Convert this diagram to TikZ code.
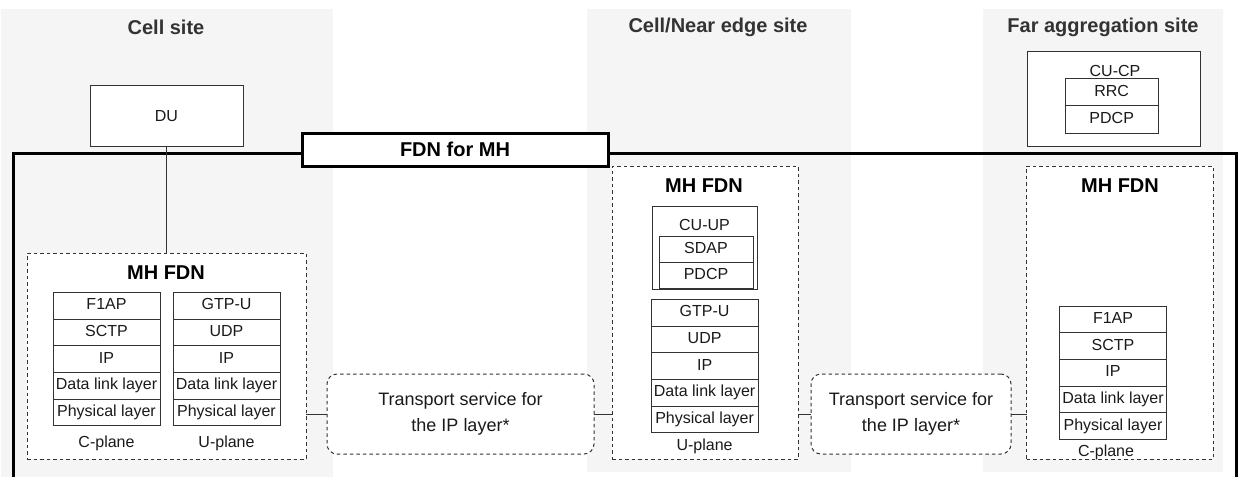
\documentclass[tikz,border=0pt]{standalone}
\usepackage{fontspec}
\setmainfont{Liberation Sans}
\newcommand\fsz[2]{\fontsize{#1}{#2}\selectfont}
\definecolor{bggray}{HTML}{F5F5F5}
\definecolor{linegray}{HTML}{333333}
\definecolor{titlegray}{HTML}{333333}
\definecolor{txt}{HTML}{1A1A1A}
\tikzset{
  bgpanel/.style={fill=bggray, draw=none},
  sitetitle/.style={font=\bfseries\fsz{20}{24}, text=titlegray, inner sep=0pt},
  mhtitle/.style={font=\bfseries\fsz{20}{24}, text=black, inner sep=0pt},
  plain/.style={font=\fsz{16}{19}, text=txt, inner sep=0pt},
  solidbox/.style={draw=linegray, line width=1pt, fill=white, inner sep=0pt, outer sep=0pt},
  layer/.style={solidbox, minimum width=107pt, minimum height=26.7pt, font=\fsz{16}{19}, text=txt, text height=11.5pt, text depth=3.5pt},
  dashbox/.style={draw=linegray, line width=1pt, dash pattern=on 3.5pt off 3pt, fill=white, inner sep=0pt, outer sep=0pt},
  transport/.style={dashbox, rounded corners=10pt, font=\fsz{18}{26}, text=txt, align=center},
  link/.style={draw=linegray, line width=1pt},
  thickframe/.style={draw=black, line width=3pt},
}
\begin{document}
\begin{tikzpicture}[x=1pt,y=-1pt]
\useasboundingbox (0,0) rectangle (1238,476);
% background site panels
\fill[bgpanel] (1,9) rectangle (333,477);
\fill[bgpanel] (587,9) rectangle (851,472);
\fill[bgpanel] (983,9) rectangle (1223,472);
\node[sitetitle] (tcell) at (166,27) {Cell site};
\node[sitetitle] (tnear) at (718,27) {Cell/Near edge site};
\node[sitetitle] (tfar) at (1103,27) {Far aggregation site};
% DU
\node[solidbox, minimum width=153pt, minimum height=60pt, font=\fsz{16}{19}, text=txt] (du) at (166.5,116) {DU};
% CU-CP
\node[solidbox, minimum width=173pt, minimum height=94pt] (cucp) at (1113.5,99) {};
\node[plain] (cucpt) at (1115,71) {CU-CP};
\node[layer, minimum width=93.3pt, minimum height=27pt] (rrc) at (1111.7,92.5) {RRC};
\node[layer, minimum width=93.3pt, minimum height=27pt] (pdcpcp) at (1111.7,119.5) {PDCP};
% big FDN frame
\draw[thickframe] (13,490) -- (13,153) -- (1236,153) -- (1236,490);
% MH FDN boxes
\node[dashbox, minimum width=279pt, minimum height=206pt] (mh1) at (166.5,356) {};
\node[dashbox, minimum width=186pt, minimum height=293pt] (mh2) at (705,312.5) {};
\node[dashbox, minimum width=186.6pt, minimum height=293pt] (mh3) at (1120,312.5) {};
% DU link
\draw[link] (du.south) -- (du.south |- mh1.north);
% FDN label
\node[solidbox, draw=black, line width=3pt, minimum width=306pt, minimum height=33pt, font=\bfseries\fsz{20}{24}, text=black] (fdn) at (455,149.5) {FDN for MH};
% MH FDN titles
\node[mhtitle] (mh1t) at (166,273) {MH FDN};
\node[mhtitle] (mh2t) at (704,186) {MH FDN};
\node[mhtitle] (mh3t) at (1120,186) {MH FDN};
% cell site stacks
\foreach \t [count=\i from 0] in {F1AP,SCTP,IP,Data link layer,Physical layer}
  \node[layer] (cs\i) at (106.5,305.65+26.7*\i) {\t};
\foreach \t [count=\i from 0] in {GTP-U,UDP,IP,Data link layer,Physical layer}
  \node[layer] (us\i) at (226.5,305.65+26.7*\i) {\t};
\node[plain] (cpl1) at (106.5,443) {C-plane};
\node[plain] (upl1) at (226.5,443) {U-plane};
% near edge: CU-UP
\node[solidbox, minimum width=105pt, minimum height=83pt] (cuup) at (704.5,247.5) {};
\node[plain] (cuupt) at (704.5,225) {CU-UP};
\node[layer, minimum width=94pt, minimum height=26pt] (sdap) at (706,249) {SDAP};
\node[layer, minimum width=94pt, minimum height=26pt] (pdcpup) at (706,275) {PDCP};
\foreach \t [count=\i from 0] in {GTP-U,UDP,IP,Data link layer,Physical layer}
  \node[layer] (ns\i) at (704.6,312.65+26.7*\i) {\t};
\node[plain] (upl2) at (704.6,446) {U-plane};
% far stack
\foreach \t [count=\i from 0] in {F1AP,SCTP,IP,Data link layer,Physical layer}
  \node[layer] (fs\i) at (1113,319.35+26.7*\i) {\t};
\node[plain] (cpl3) at (1106,452) {C-plane};
% transport services
\node[transport, minimum width=267pt, minimum height=80pt] (t1) at (460.5,414) {Transport service for\\the IP layer*};
\node[transport, minimum width=200pt, minimum height=80pt] (t2) at (911,414) {Transport service for\\the IP layer*};
% connectors
\draw[link] (mh1.east |- t1.west) -- (t1.west);
\draw[link] (t1.east) -- (t1.east -| mh2.west);
\draw[link] (mh2.east |- t2.west) -- (t2.west);
\draw[link] (t2.east) -- (t2.east -| mh3.west);
\end{tikzpicture}
\end{document}
